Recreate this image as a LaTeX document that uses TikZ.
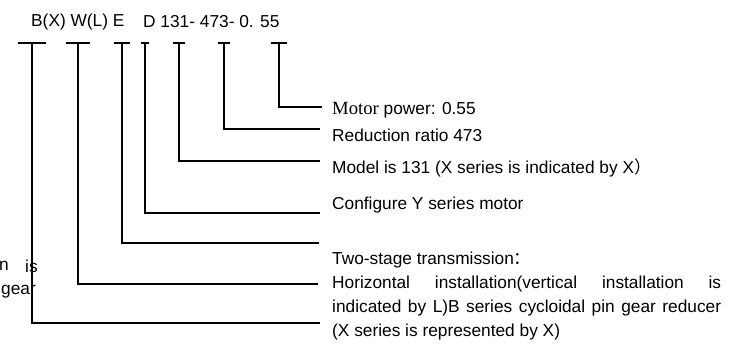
\documentclass[tikz,border=0pt]{standalone}
\usepackage{fontspec}
\setmainfont{Liberation Sans}
\newfontfamily\cjkf{Noto Sans CJK SC}
\newfontfamily\serf[Scale=1.08]{Liberation Serif}
\begin{document}
\begin{tikzpicture}[x=1pt,y=-1pt,
  txt/.style={inner sep=0pt,anchor=west,font=\fontsize{17.3}{20}\selectfont},
  lead/.style={line width=1.2pt},
  tbar/.style={line width=2.4pt}]
\useasboundingbox (0,0) rectangle (736,347);
% top code
\node[txt] (c1) at (31,22) {B(X) W(L) E};
\node[txt] (c2) at (143,22) {D 131- 473- 0. 55};
% T-bar tops
\foreach \n/\x/\w in {1/32/14,2/78/12,3/122/8,4/145/4,5/179/6,6/224/6,7/279/8}{
  \coordinate (t\n) at (\x,43);
  \coordinate (tl\n) at (\x-\w,43);
  \coordinate (tr\n) at (\x+\w,43);
  \draw[tbar] (tl\n) -- (tr\n);
}
% line ends
\coordinate (e7) at (322,107);
\coordinate (e6) at (320,129);
\coordinate (e5) at (320,161);
\coordinate (e4) at (320,213);
\coordinate (e3) at (319,243);
\coordinate (e2) at (318,284);
\coordinate (e1) at (320,323);
% left fragments (behind lines)
\node[txt] (f1) at (-1,266) {n};
\node[txt] (f2) at (25,266) {is};
\node[txt,anchor=east] (f3) at (36,292) {gear};
% leaders
\foreach \n in {1,...,7}{ \draw[lead] (t\n) |- (e\n); }
% labels
\node[txt] (l7) at (332,110) {{\serf Motor} power: 0.55};
\node[txt] (l6) at (332,135) {Reduction ratio 473};
\node[txt] (l5) at (332,168) {Model is 131 (X series is indicated by X{\cjkf ）}};
\node[txt] (l4) at (332,205) {Configure Y series motor};
\node[txt] (l3) at (332,260) {Two-stage transmission{\cjkf ：}};
\node[txt] (l2a) at (332,284) {\hbox to 389pt{Horizontal\hfill installation(vertical\hfill installation\hfill is}};
\node[txt] (l2b) at (332,308) {\hbox to 389pt{indicated\hfill by\hfill L)B\hfill series\hfill cycloidal\hfill pin\hfill gear\hfill reducer}};
\node[txt] (l2c) at (332,332) {(X series is represented by X)};
\end{tikzpicture}
\end{document}
